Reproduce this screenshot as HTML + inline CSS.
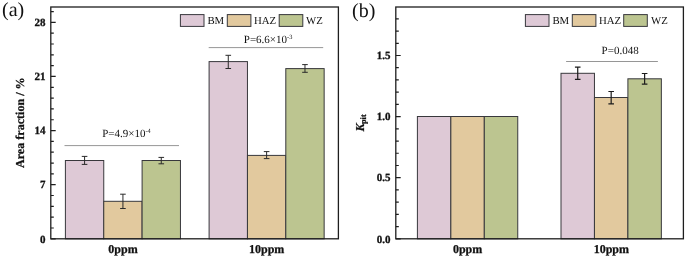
<!DOCTYPE html>
<html><head><meta charset="utf-8"><title>figure</title>
<style>
html,body{margin:0;padding:0;background:#fff}
svg{display:block;will-change:transform}
text{font-family:"Liberation Serif","Times New Roman",serif;fill:#111;text-rendering:geometricPrecision}
.tk{font-size:11px;font-weight:bold;stroke:#111;stroke-width:.3px}
.xl{font-size:12px;font-weight:bold;stroke:#111;stroke-width:.25px}
.yl{font-size:12.1px;font-weight:bold;stroke:#111;stroke-width:.25px}
.p{font-size:11px}
.lg{font-size:10.8px}
.pl{font-size:20px}
</style></head><body>
<svg width="685" height="258" viewBox="0 0 685 258">
<rect width="685" height="258" fill="#fff"/>
<rect x="65.4" y="160.5" width="38.35" height="78.3" fill="#DEC9D6" stroke="#38383c" stroke-width="1"/>
<rect x="103.75" y="201.3" width="38.35" height="37.5" fill="#E2C99E" stroke="#38383c" stroke-width="1"/>
<rect x="142.1" y="160.5" width="38.35" height="78.3" fill="#BCC590" stroke="#38383c" stroke-width="1"/>
<rect x="209.1" y="61.6" width="38.35" height="177.2" fill="#DEC9D6" stroke="#38383c" stroke-width="1"/>
<rect x="247.45" y="155.4" width="38.35" height="83.4" fill="#E2C99E" stroke="#38383c" stroke-width="1"/>
<rect x="285.8" y="68.6" width="38.35" height="170.2" fill="#BCC590" stroke="#38383c" stroke-width="1"/>
<path d="M84.58 156.4V164.4M81.78 156.4H87.38M81.78 164.4H87.38" stroke="#2a2a2a" stroke-width="1.0" fill="none"/>
<path d="M122.93 194.2V208.5M120.13 194.2H125.73M120.13 208.5H125.73" stroke="#2a2a2a" stroke-width="1.0" fill="none"/>
<path d="M161.28 157.4V163.8M158.47 157.4H164.08M158.47 163.8H164.08" stroke="#2a2a2a" stroke-width="1.0" fill="none"/>
<path d="M228.28 55.3V68.5M225.47 55.3H231.08M225.47 68.5H231.08" stroke="#2a2a2a" stroke-width="1.0" fill="none"/>
<path d="M266.62 151.6V158.6M263.82 151.6H269.43M263.82 158.6H269.43" stroke="#2a2a2a" stroke-width="1.0" fill="none"/>
<path d="M304.98 64.6V72.3M302.18 64.6H307.78M302.18 72.3H307.78" stroke="#2a2a2a" stroke-width="1.0" fill="none"/>
<path d="M50.8 238.8h4.9M50.8 227.98h3.0M50.8 217.16h3.0M50.8 206.33h3.0M50.8 195.51h3.0M50.8 184.69h4.9M50.8 173.87h3.0M50.8 163.05h3.0M50.8 152.22h3.0M50.8 141.4h3.0M50.8 130.58h4.9M50.8 119.76h3.0M50.8 108.94h3.0M50.8 98.11h3.0M50.8 87.29h3.0M50.8 76.47h4.9M50.8 65.65h3.0M50.8 54.83h3.0M50.8 44h3.0M50.8 33.18h3.0M50.8 22.36h4.9M50.8 11.54h3.0" stroke="#1e1e1e" stroke-width="1.2" fill="none"/>
<rect x="50.8" y="7" width="287.6" height="231.8" fill="none" stroke="#1e1e1e" stroke-width="1.3"/>
<text x="45.4" y="242.5" text-anchor="end" class="tk">0</text>
<text x="45.4" y="188.39" text-anchor="end" class="tk">7</text>
<text x="45.4" y="134.28" text-anchor="end" class="tk">14</text>
<text x="45.4" y="80.17" text-anchor="end" class="tk">21</text>
<text x="45.4" y="26.06" text-anchor="end" class="tk">28</text>
<path d="M64.5 145.6H179" stroke="#8a8a8a" stroke-width="0.9"/>
<text x="102.2" y="137.2" class="p">P=4.9×10<tspan dy="-4.2" font-size="6.4">-4</tspan></text>
<path d="M208.7 47.6H323.2" stroke="#8a8a8a" stroke-width="0.9"/>
<text x="243.8" y="42.8" class="p">P=6.6×10<tspan dy="-4.2" font-size="6.4">-3</tspan></text>
<rect x="180.4" y="14.6" width="23.6" height="11.8" fill="#DEC9D6" stroke="#38383c" stroke-width="1"/>
<text x="207.4" y="24.2" class="lg">BM</text>
<rect x="227.3" y="14.6" width="23.6" height="11.8" fill="#E2C99E" stroke="#38383c" stroke-width="1"/>
<text x="253.9" y="24.2" class="lg">HAZ</text>
<rect x="279.2" y="14.6" width="23.6" height="11.8" fill="#BCC590" stroke="#38383c" stroke-width="1"/>
<text x="306" y="24.2" class="lg">WZ</text>
<text x="123" y="252.8" text-anchor="middle" class="xl">0ppm</text>
<text x="266.7" y="252.8" text-anchor="middle" class="xl">10ppm</text>
<text transform="translate(24.3,122.7) rotate(-90)" text-anchor="middle" class="yl">Area fraction / %</text>
<text x="2" y="16" class="pl">(a)</text>
<rect x="417.4" y="116.5" width="33.45" height="122.3" fill="#DEC9D6" stroke="#38383c" stroke-width="1"/>
<rect x="450.85" y="116.5" width="33.45" height="122.3" fill="#E2C99E" stroke="#38383c" stroke-width="1"/>
<rect x="484.3" y="116.5" width="33.45" height="122.3" fill="#BCC590" stroke="#38383c" stroke-width="1"/>
<rect x="561" y="73.3" width="33.45" height="165.5" fill="#DEC9D6" stroke="#38383c" stroke-width="1"/>
<rect x="594.45" y="97.5" width="33.45" height="141.3" fill="#E2C99E" stroke="#38383c" stroke-width="1"/>
<rect x="627.9" y="78.8" width="33.45" height="160" fill="#BCC590" stroke="#38383c" stroke-width="1"/>
<path d="M577.73 67.2V79.4M574.93 67.2H580.52M574.93 79.4H580.52" stroke="#1c1c1c" stroke-width="1.2" fill="none"/>
<path d="M611.17 91.5V103.8M608.38 91.5H613.97M608.38 103.8H613.97" stroke="#1c1c1c" stroke-width="1.2" fill="none"/>
<path d="M644.62 73.5V84.2M641.83 73.5H647.42M641.83 84.2H647.42" stroke="#1c1c1c" stroke-width="1.2" fill="none"/>
<path d="M395.8 238.8h4.9M395.8 226.58h3.0M395.8 214.36h3.0M395.8 202.14h3.0M395.8 189.92h3.0M395.8 177.7h4.9M395.8 165.48h3.0M395.8 153.26h3.0M395.8 141.04h3.0M395.8 128.82h3.0M395.8 116.6h4.9M395.8 104.38h3.0M395.8 92.16h3.0M395.8 79.94h3.0M395.8 67.72h3.0M395.8 55.5h4.9M395.8 43.28h3.0M395.8 31.06h3.0M395.8 18.84h3.0" stroke="#1e1e1e" stroke-width="1.2" fill="none"/>
<rect x="395.8" y="7" width="287.6" height="231.8" fill="none" stroke="#1e1e1e" stroke-width="1.3"/>
<text x="390.4" y="242.5" text-anchor="end" class="tk">0.0</text>
<text x="390.4" y="181.4" text-anchor="end" class="tk">0.5</text>
<text x="390.4" y="120.3" text-anchor="end" class="tk">1.0</text>
<text x="390.4" y="59.2" text-anchor="end" class="tk">1.5</text>
<path d="M566.1 61.5H657.9" stroke="#8a8a8a" stroke-width="0.9"/>
<text x="601.6" y="53.6" class="p">P=0.048</text>
<rect x="525.4" y="14.6" width="23.6" height="11.8" fill="#DEC9D6" stroke="#38383c" stroke-width="1"/>
<text x="552.4" y="24.2" class="lg">BM</text>
<rect x="572.3" y="14.6" width="23.6" height="11.8" fill="#E2C99E" stroke="#38383c" stroke-width="1"/>
<text x="598.9" y="24.2" class="lg">HAZ</text>
<rect x="623.7" y="14.6" width="23.6" height="11.8" fill="#BCC590" stroke="#38383c" stroke-width="1"/>
<text x="651" y="24.2" class="lg">WZ</text>
<text x="467.6" y="252.8" text-anchor="middle" class="xl">0ppm</text>
<text x="611.3" y="252.8" text-anchor="middle" class="xl">10ppm</text>
<text transform="translate(363.6,131.5) rotate(-90)" class="yl"><tspan font-style="italic">K</tspan><tspan dx="-0.6" dy="2.6" font-size="8.3">pit</tspan></text>
<text x="352" y="17" class="pl">(b)</text>
</svg></body></html>
